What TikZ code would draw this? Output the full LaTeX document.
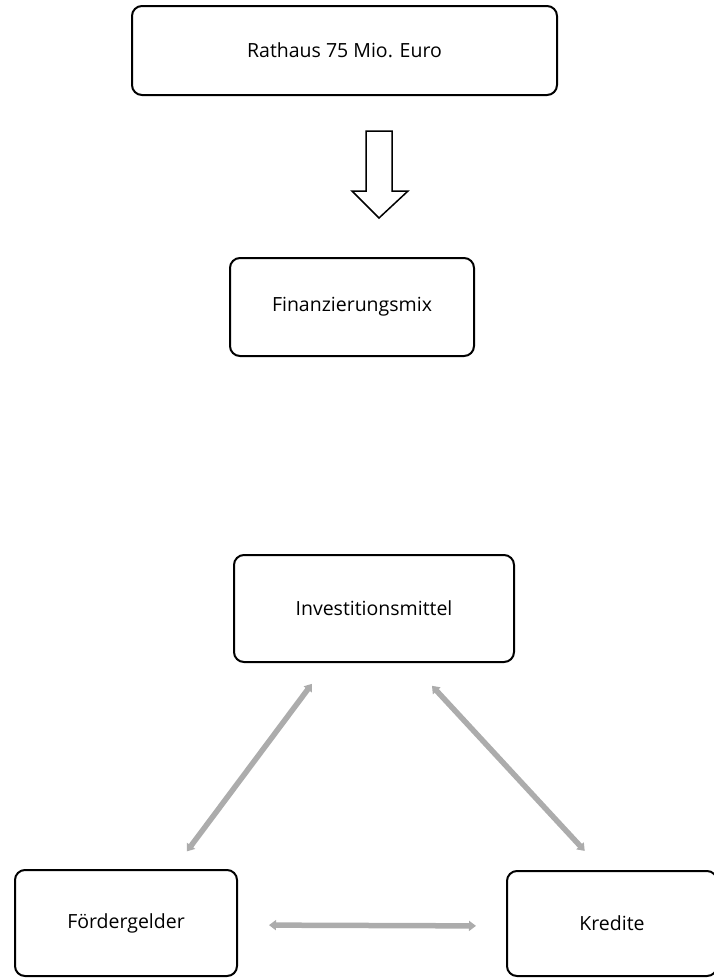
\documentclass[tikz,border=0pt]{standalone}
\usepackage{fontspec}
\setmainfont{Open Sans}
\usetikzlibrary{arrows.meta}

\begin{document}
\begin{tikzpicture}[x=1pt,y=-1pt,
  box/.style={draw=black, line width=2pt, rounded corners=10pt, inner sep=0pt, font=\fontsize{19.5}{23}\selectfont},
  link/.style={draw=gray!65, line width=5.5pt, {Triangle[length=7pt,width=10pt]}-{Triangle[length=7pt,width=10pt]}}]
\useasboundingbox (0,0) rectangle (714,978);
\node[box, minimum width=425pt, minimum height=89pt] (rathaus) at (344.5,50.5) {Rathaus 75 Mio. Euro};
\node[box, minimum width=244pt, minimum height=98pt] (finanz) at (352,307) {Finanzierungsmix};
\node[box, minimum width=280pt, minimum height=107pt] (invest) at (374,608.5) {Investitionsmittel};
\node[box, minimum width=222pt, minimum height=106pt] (foerder) at (126,923) {Fördergelder};
\node[box, minimum width=210pt, minimum height=105pt] (kredite) at (612,923.5) {Kredite};
% Blockpfeil
\draw[line width=1.5pt, line join=miter] (366,131) -- (392,131) -- (392,191) -- (408,191) -- (379,218) -- (352,191) -- (366,191) -- cycle;
% Verbindungen
\draw[link, shorten <=26pt, shorten >=22pt] ([xshift=94.5pt]invest.south west) -- ([xshift=159.7pt]foerder.north west);
\draw[link, shorten <=31pt, shorten >=26pt] ([xshift=177.9pt]invest.south west) -- ([xshift=96.4pt]kredite.north west);
\draw[link, shorten <=31pt, shorten >=30pt] ([yshift=-2pt]foerder.east) -- ([yshift=-2.5pt]kredite.west);
\end{tikzpicture}
\end{document}
